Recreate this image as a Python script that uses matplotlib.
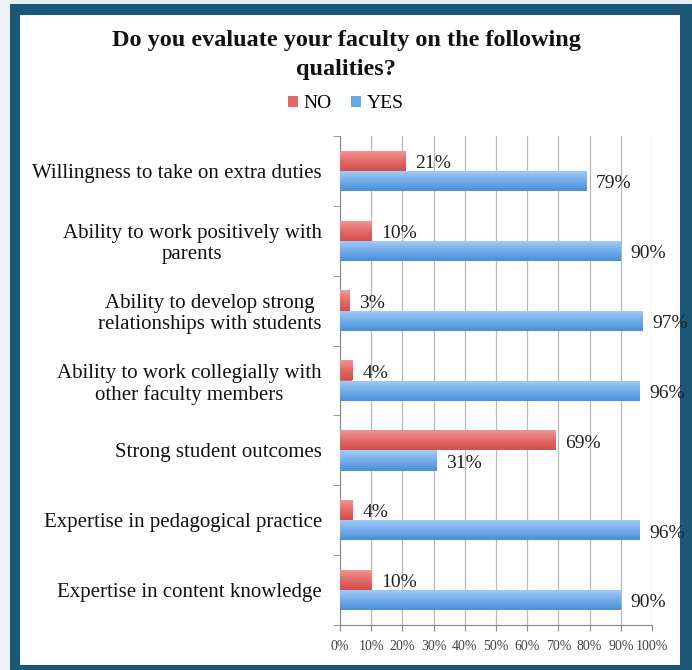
import matplotlib
matplotlib.use("Agg")
import matplotlib.pyplot as plt
from matplotlib.patches import Rectangle
from matplotlib.colors import LinearSegmentedColormap
import numpy as np

categories = [
    "Willingness to take on extra duties",
    "Ability to work positively with\nparents",
    "Ability to develop strong\nrelationships with students",
    "Ability to work collegially with\nother faculty members",
    "Strong student outcomes",
    "Expertise in pedagogical practice",
    "Expertise in content knowledge",
]
no_vals = [21, 10, 3, 4, 69, 4, 10]
yes_vals = [79, 90, 97, 96, 31, 96, 90]
xticks = [0, 10, 20, 30, 40, 50, 60, 70, 80, 90, 100]

FONT = "Liberation Serif"
W, H = 692, 670
fig = plt.figure(figsize=(W / 100, H / 100), dpi=100)
fig.patch.set_facecolor("#1b5877")
fig.add_artist(Rectangle((20 / W, 5 / H), (680 - 20) / W, 650 / H,
                         transform=fig.transFigure, facecolor="white", edgecolor="none", zorder=0))
fig.add_artist(Rectangle((0, 1 - 4 / H), 1, 4 / H, transform=fig.transFigure,
                         facecolor="#e4ecf1", edgecolor="none", zorder=0))
fig.add_artist(Rectangle((0, 0), 10 / W, 1, transform=fig.transFigure,
                         facecolor="#eef2f5", edgecolor="none", zorder=0))

ax = fig.add_axes([340 / W, 1 - 625 / H, (652 - 340) / W, (625 - 136) / H])
ax.set_facecolor("none")

n = len(categories)
y = np.arange(n)
h = 0.29
red_cmap = LinearSegmentedColormap.from_list("r", ["#f09a98", "#e46c6a", "#cf4f4d"])
blue_cmap = LinearSegmentedColormap.from_list("b", ["#a6ccf6", "#74aeea", "#4a8fd8"])
bars_no = ax.barh(y - h / 2, no_vals, height=h, color="#e06a68", edgecolor="none", zorder=3, label="NO")
bars_yes = ax.barh(y + h / 2, yes_vals, height=h, color="#6aa6e6", edgecolor="none", zorder=3, label="YES")

grad = np.linspace(0, 1, 64).reshape(-1, 1)
for bars, cmap in ((bars_no, red_cmap), (bars_yes, blue_cmap)):
    for p in bars:
        x0, y0 = p.get_x(), p.get_y()
        w, hh = p.get_width(), p.get_height()
        im = ax.imshow(grad, cmap=cmap, aspect="auto", origin="upper",
                       extent=(x0, x0 + w, y0 + hh, y0), zorder=3.5, interpolation="bilinear")
        im.set_clip_path(p)

for i in range(n):
    ax.annotate(f"{no_vals[i]}%", (no_vals[i], y[i] - h / 2), xytext=(7, -2),
                textcoords="offset points", va="center", ha="left",
                fontsize=14, family=FONT, color="#222222", zorder=4)
    ax.annotate(f"{yes_vals[i]}%", (yes_vals[i], y[i] + h / 2), xytext=(7, -2),
                textcoords="offset points", va="center", ha="left",
                fontsize=14, family=FONT, color="#222222", zorder=4)

ax.set_xlim(0, 100)
ax.set_ylim(n - 0.5, -0.5)
ax.set_xticks(xticks)
ax.set_xticklabels([f"{t}%" for t in xticks], family=FONT, fontsize=10, color="#444444")
ax.grid(axis="x", color="#b8b8b8", linewidth=0.9, zorder=1)
ax.set_yticks(y)
ax.set_yticklabels(categories, family=FONT, fontsize=15, color="#111111")
ax.tick_params(axis="y", length=0, pad=13)
ax.set_yticks(np.arange(n + 1) - 0.5, minor=True)
ax.tick_params(axis="y", which="minor", length=5, color="#888888")
ax.tick_params(axis="x", length=4, color="#888888", pad=7)
for s in ["top", "right"]:
    ax.spines[s].set_visible(False)
ax.spines["left"].set_color("#888888")
ax.spines["bottom"].set_color("#888888")
for lab in ax.get_yticklabels():
    lab.set_multialignment("center")
    lab.set_linespacing(1.15)

fig.text(0.5, 1 - 55 / H, "Do you evaluate your faculty on the following\nqualities?",
         ha="center", va="center", fontsize=17.5, fontweight="bold", family=FONT,
         linespacing=1.55, color="#111111")
fig.legend(loc="center", bbox_to_anchor=(0.5, 1 - 104 / H), ncol=2, frameon=False,
           prop={"family": FONT, "size": 14}, handlelength=0.5, handleheight=0.5,
           handletextpad=0.3, columnspacing=1.0)

fig.savefig("out.png", dpi=100, facecolor=fig.get_facecolor())
